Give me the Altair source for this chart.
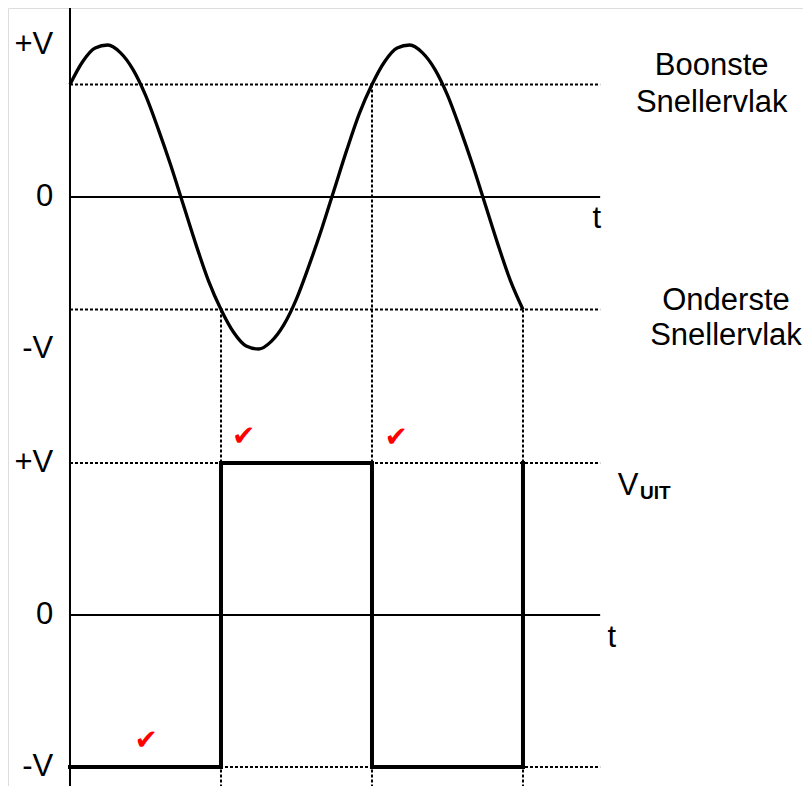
import altair as alt
import pandas as pd

# ---- data (t in degrees of phase, v in units of V) ----
sine_t = [0, 15, 30, 45, 60, 75, 90, 105, 120, 135, 150, 165, 180, 195, 210, 225,
          240, 255, 270, 285, 300, 315, 330, 345, 360, 375, 390, 405, 420, 435, 450,
          465, 480, 495, 510, 525, 540]
sine_v = [0.74, 0.89, 0.98, 1.00, 0.95, 0.84, 0.67, 0.45, 0.21, -0.05, -0.31, -0.55,
          -0.74, -0.89, -0.98, -1.00, -0.95, -0.84, -0.67, -0.45, -0.21, 0.05, 0.31,
          0.55, 0.74, 0.89, 0.98, 1.00, 0.95, 0.84, 0.67, 0.45, 0.21, -0.05, -0.31,
          -0.55, -0.74]
square_t = [0, 180, 180, 360, 360, 540, 540]
square_v = [-1, -1, 1, 1, -1, -1, 1]
threshold_upper = 0.74
threshold_lower = -0.74
switch_t = [180, 360, 540]
switch_from = [threshold_lower, threshold_upper, threshold_lower]
level_labels = ["+V", "0", "-V"]
level_values = [1, 0, -1]
t_end = 632

# layout of the two stacked traces on one shared y scale
TOP_OFF = 0.0
BOT_OFF = -2.75
X_DOM = [-73.9, 873.8]
Y_DOM = [-3.875, 1.2434]
W, H = 795, 778
FONT = "Liberation Sans"

xs = alt.Scale(domain=X_DOM, nice=False, zero=False)
ys = alt.Scale(domain=Y_DOM, nice=False, zero=False)
X = alt.X("t:Q", scale=xs, axis=None)
Y = alt.Y("y:Q", scale=ys, axis=None)
DASH = [3, 2]


def hlines(vals, dashed, width=2):
    df = pd.DataFrame({"t": [0] * len(vals), "t2": [t_end] * len(vals), "y": vals})
    props = dict(color="black", strokeWidth=width)
    if dashed:
        props["strokeDash"] = DASH
    return alt.Chart(df).mark_rule(**props).encode(x=X, x2="t2:Q", y=Y)


def vrules(ts, y1s, y2s, dashed, width=2):
    df = pd.DataFrame({"t": ts, "y": y1s, "y2": y2s})
    props = dict(color="black", strokeWidth=width)
    if dashed:
        props["strokeDash"] = DASH
    return alt.Chart(df).mark_rule(**props).encode(x=X, y=Y, y2="y2:Q")


def texts(ts, ys_, labels, **props):
    base = dict(font=FONT, fontSize=31, color="black")
    base.update(props)
    df = pd.DataFrame({"t": ts, "y": ys_, "label": labels})
    return alt.Chart(df).mark_text(**base).encode(x=X, y=Y, text="label:N")


sine_df = pd.DataFrame({"t": sine_t, "y": [v + TOP_OFF for v in sine_v]})
square_df = pd.DataFrame({"t": square_t, "y": [v + BOT_OFF for v in square_v],
                          "i": list(range(len(square_t)))})

layers = [
    # dotted guide lines
    hlines([threshold_upper + TOP_OFF, threshold_lower + TOP_OFF,
            1 + BOT_OFF, -1 + BOT_OFF], True),
    vrules(switch_t, [v + TOP_OFF for v in switch_from], [Y_DOM[0]] * 3, True),
    # solid zero lines and vertical axis
    hlines([0 + TOP_OFF, 0 + BOT_OFF], False),
    vrules([0], [Y_DOM[1]], [Y_DOM[0]], False),
    # traces
    alt.Chart(sine_df).mark_line(color="black", strokeWidth=3.3, interpolate="monotone")
    .encode(x=X, y=Y, order="t:Q"),
    alt.Chart(square_df).mark_line(color="black", strokeWidth=4, strokeJoin="miter",
                                   strokeCap="square")
    .encode(x=X, y=Y, order="i:Q"),
    # level labels
    texts([-20] * 6, [v + TOP_OFF for v in level_values] + [v + BOT_OFF for v in level_values],
          level_labels * 2, align="right", baseline="middle"),
    # t labels
    texts([628, 646], [-0.204 + TOP_OFF, -0.21 + BOT_OFF], ["t", "t"],
          align="center", baseline="alphabetic"),
    # comparator level captions
    texts([765, 765, 782, 782], [0.803, 0.559, -0.743, -0.974],
          ["Boonste", "Snellervlak", "Onderste", "Snellervlak"],
          align="center", baseline="alphabetic"),
    # output label V_UIT
    texts([653], [0.789 + BOT_OFF], ["V"], align="left", baseline="alphabetic"),
    texts([679.5], [0.763 + BOT_OFF], ["UIT"], align="left", baseline="alphabetic",
          fontSize=19, fontWeight="bold"),
    # red check marks
    texts([207, 389, 91], [1.17 + BOT_OFF, 1.165 + BOT_OFF, -0.83 + BOT_OFF],
          ["✔", "✔", "✔"], align="center", baseline="middle", font="DejaVu Sans",
          fontSize=28, color="#ff0000"),
]

chart = (
    alt.layer(*layers)
    .properties(width=W, height=H, padding=0,
                autosize=alt.AutoSizeParams(type="none"))
    .configure_view(strokeWidth=0, stroke="transparent")
    .configure(background="white")
)

chart.save("out.html", embed_options={"renderer": "svg", "actions": False})
